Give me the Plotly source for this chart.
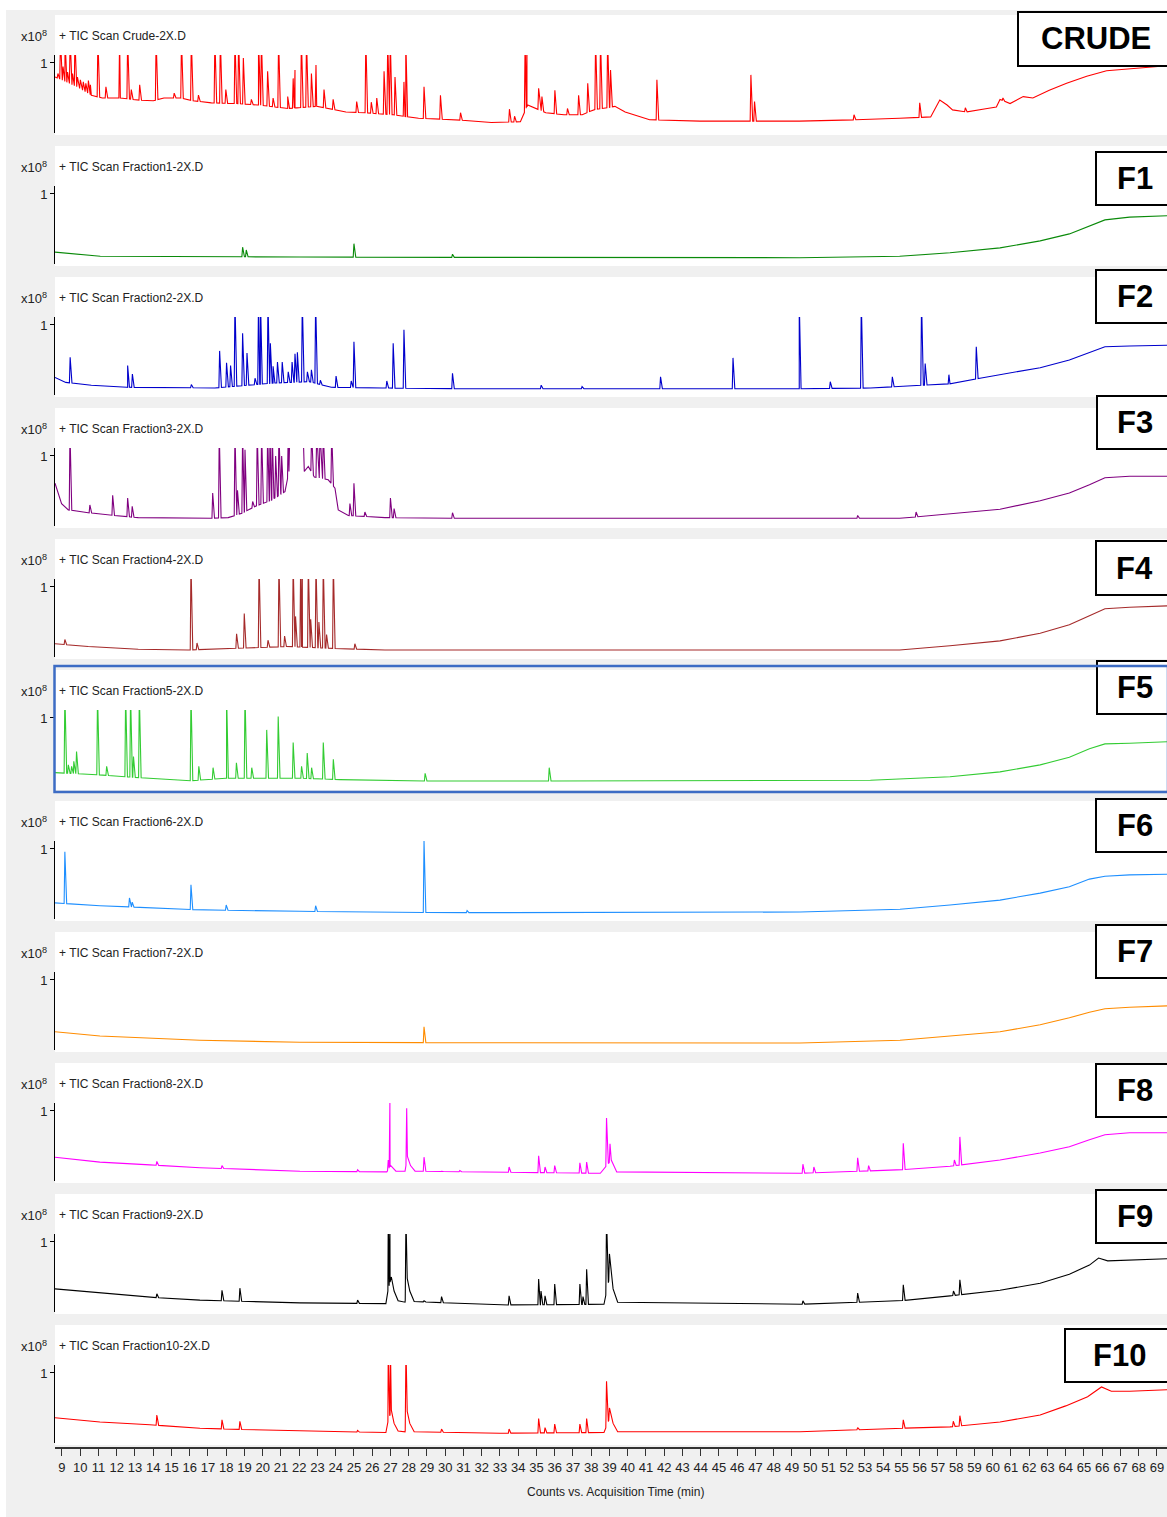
import numpy as np
import plotly.graph_objects as go

# ---------------------------------------------------------------------------
# Chromatogram data: baseline knots (time [min], counts x1e8) and peak apexes
# (time [min], counts x1e8).  Apex values above the axis top are off-scale.
# ---------------------------------------------------------------------------
OFF = 1.35  # off-scale apex

crude_base = [(8.62, 0.80), (9.81, 0.66), (10.61, 0.54), (11.21, 0.50), (12.2, 0.50),
              (13.2, 0.47), (14.0, 0.46), (14.59, 0.50), (15.49, 0.50), (16.19, 0.46),
              (17.19, 0.43), (18.58, 0.42), (19.77, 0.40), (21.37, 0.35), (22.96, 0.38),
              (24.56, 0.30), (25.55, 0.29), (27.15, 0.26), (28.54, 0.21), (30.53, 0.19),
              (32.53, 0.15), (34.12, 0.16), (34.52, 0.40), (35.51, 0.29), (36.51, 0.26),
              (37.51, 0.26), (38.11, 0.33), (39.3, 0.38), (39.86, 0.30), (41.2, 0.19),
              (43.96, 0.17), (47.25, 0.17), (49.4, 0.17), (52.7, 0.19), (54.9, 0.21),
              (56.6, 0.23), (57.1, 0.47), (57.5, 0.40), (57.8, 0.33), (58.57, 0.30),
              (59.7, 0.35), (60.2, 0.37), (60.4, 0.48), (60.95, 0.42), (61.67, 0.52),
              (62.2, 0.50), (63.1, 0.61), (64.05, 0.71), (65.15, 0.81), (66.24, 0.89),
              (67.7, 0.92), (69.55, 0.96)]
crude_peaks = [(8.78, 0.85), (8.92, OFF), (9.06, 0.95), (9.17, OFF), (9.31, 0.87),
               (9.45, OFF), (9.58, 0.85), (9.71, OFF), (9.85, 0.80), (10.01, 0.76),
               (10.17, 0.73), (10.31, 0.71), (10.45, 0.75), (10.56, 0.69), (10.97, OFF),
               (11.41, 0.66), (12.16, OFF), (12.6, OFF), (12.8, 0.62), (13.26, 0.69),
               (14.16, OFF), (15.15, 0.57), (15.55, OFF), (16.09, OFF), (16.48, 0.54),
               (17.38, OFF), (17.68, OFF), (17.98, 0.62), (18.48, OFF), (18.68, OFF),
               (18.94, 1.07), (19.38, 0.48), (19.77, OFF), (19.93, OFF), (20.27, 0.88),
               (20.57, 0.50), (20.87, OFF), (21.37, 0.52), (21.67, 0.78), (21.77, 0.90),
               (22.12, OFF), (22.4, OFF), (22.67, 0.85), (22.92, 0.97), (23.36, 0.62),
               (23.86, 0.48), (25.15, 0.45), (25.65, OFF), (25.95, 0.44), (26.25, 0.50),
               (26.65, 0.88), (26.85, OFF), (26.99, OFF), (27.25, 0.80), (27.74, 0.73),
               (27.84, OFF), (28.84, 0.66), (29.74, 0.54), (30.84, 0.29), (33.52, 0.34),
               (33.8, 0.24), (34.38, OFF), (34.48, OFF), (35.12, 0.64), (35.3, 0.52),
               (36.01, 0.61), (36.7, 0.35), (37.31, 0.54), (37.81, 0.71), (38.24, OFF),
               (38.51, OFF), (38.9, OFF), (39.06, 0.90), (41.6, 0.76), (46.75, 0.83),
               (46.95, 0.45), (52.4, 0.26), (56.0, 0.43), (58.5, 0.36), (60.56, 0.50)]

f1_base = [(8.62, 0.17), (11.1, 0.11), (22.0, 0.10), (38.5, 0.09), (49.4, 0.09),
           (54.9, 0.11), (57.66, 0.16), (60.4, 0.23), (62.6, 0.33), (64.2, 0.43),
           (65.3, 0.54), (66.15, 0.63), (67.5, 0.67), (69.55, 0.69)]
f1_peaks = [(18.9, 0.24), (19.1, 0.20), (25.0, 0.29), (30.4, 0.14)]

f2_base = [(8.62, 0.25), (9.21, 0.18), (10.61, 0.14), (12.6, 0.11), (17.38, 0.10),
           (20.57, 0.17), (22.56, 0.19), (23.76, 0.11), (26.55, 0.10), (30.53, 0.09),
           (39.86, 0.09), (49.4, 0.09), (53.3, 0.10), (57.66, 0.16), (59.3, 0.24),
           (60.4, 0.29), (62.6, 0.39), (64.2, 0.50), (65.3, 0.61), (66.15, 0.69),
           (67.5, 0.70), (69.55, 0.71)]
f2_peaks = [(9.45, 0.54), (12.6, 0.42), (12.86, 0.30), (16.09, 0.15), (17.64, 0.63),
            (18.02, 0.46), (18.24, 0.42), (18.48, OFF), (18.9, 0.88), (19.14, 0.60),
            (19.58, 0.24), (19.77, OFF), (19.88, OFF), (20.29, OFF), (20.42, 0.74),
            (20.57, 0.41), (20.81, 0.47), (21.07, 0.47), (21.4, 0.33), (21.61, 0.47),
            (21.77, 0.59), (21.9, 0.61), (22.17, OFF), (22.45, 0.33), (22.67, 0.36),
            (22.9, OFF), (23.16, 0.21), (24.02, 0.27), (24.85, 0.20), (25.0, 0.76),
            (26.8, 0.20), (27.15, 0.74), (27.74, 0.93), (30.4, 0.31), (35.26, 0.14),
            (37.5, 0.12), (41.8, 0.26), (45.77, 0.53), (49.4, OFF), (51.1, 0.19),
            (52.8, OFF), (54.5, 0.26), (56.1, OFF), (56.3, 0.45), (57.6, 0.29),
            (59.1, 0.69)]

f3_base = [(8.62, 0.61), (8.98, 0.32), (9.35, 0.23), (10.44, 0.19), (12.27, 0.14),
           (13.18, 0.12), (17.2, 0.11), (18.11, 0.12), (18.85, 0.18), (19.58, 0.28),
           (20.49, 0.37), (21.22, 0.49), (21.44, 0.78), (21.5, 1.50), (22.2, 1.50),
           (22.28, 0.78), (22.5, 0.85), (22.83, 0.70), (23.59, 0.66), (23.96, 0.54),
           (24.14, 0.23), (24.69, 0.15), (26.7, 0.12), (30.0, 0.11), (54.9, 0.11),
           (57.66, 0.17), (60.4, 0.24), (62.6, 0.36), (64.2, 0.47), (65.3, 0.59),
           (66.15, 0.69), (67.5, 0.71), (69.55, 0.71)]
f3_peaks = [(9.44, OFF), (10.53, 0.30), (11.78, 0.44), (12.6, 0.40), (12.85, 0.28),
            (17.26, 0.47), (17.62, OFF), (18.48, OFF), (18.62, 0.51), (18.9, OFF),
            (19.03, 1.09), (19.45, 0.35), (19.7, OFF), (19.94, OFF), (20.27, OFF),
            (20.4, OFF), (20.52, OFF), (20.71, 1.00), (20.89, OFF), (21.04, 1.00),
            (21.4, OFF), (22.68, OFF), (22.96, OFF), (23.14, OFF), (23.32, OFF),
            (23.78, OFF), (24.78, 0.32), (25.0, 0.61), (25.6, 0.20), (27.0, 0.40),
            (27.2, 0.25), (30.4, 0.19), (52.6, 0.15), (55.8, 0.20)]

f4_base = [(8.62, 0.19), (10.44, 0.15), (13.18, 0.11), (15.92, 0.10), (21.4, 0.15),
           (24.14, 0.12), (26.7, 0.10), (54.9, 0.10), (57.66, 0.16), (60.4, 0.23),
           (62.6, 0.34), (64.2, 0.46), (65.3, 0.59), (66.15, 0.69), (67.5, 0.71),
           (69.55, 0.73)]
f4_peaks = [(9.16, 0.25), (16.07, OFF), (16.4, 0.20), (18.57, 0.33), (18.99, 0.62),
            (19.8, OFF), (20.29, 0.24), (20.89, OFF), (21.2, 0.30), (21.67, OFF),
            (21.8, 0.58), (22.08, OFF), (22.17, OFF), (22.5, OFF), (22.63, 0.54),
            (22.92, OFF), (23.08, 0.50), (23.32, OFF), (23.5, 0.32), (23.87, OFF),
            (25.05, 0.19)]

f5_base = [(8.62, 0.22), (10.9, 0.19), (13.64, 0.14), (15.83, 0.10), (18.02, 0.14),
           (22.04, 0.14), (24.23, 0.12), (27.52, 0.10), (38.5, 0.10), (53.3, 0.11),
           (57.66, 0.16), (60.4, 0.23), (62.6, 0.33), (64.2, 0.44), (65.3, 0.56),
           (66.15, 0.63), (67.5, 0.64), (69.55, 0.66)]
f5_peaks = [(9.16, OFF), (9.35, 0.33), (9.53, 0.31), (9.65, 0.38), (9.8, 0.52),
            (10.95, OFF), (11.45, 0.31), (12.49, OFF), (12.76, OFF), (12.92, 0.45),
            (13.24, OFF), (16.07, OFF), (16.5, 0.31), (17.28, 0.29), (18.02, OFF),
            (18.56, 0.36), (19.03, OFF), (19.4, 0.29), (20.22, 0.83), (20.85, 1.02),
            (21.67, 0.65), (22.13, 0.31), (22.44, 0.50), (22.68, 0.29), (23.32, 0.65),
            (23.87, 0.41), (28.9, 0.21), (35.7, 0.29)]

f6_base = [(8.62, 0.23), (11.08, 0.19), (16.56, 0.13), (22.04, 0.11), (30.26, 0.09),
           (49.44, 0.10), (54.92, 0.14), (57.66, 0.20), (60.4, 0.27), (62.6, 0.37),
           (64.2, 0.46), (65.3, 0.57), (66.15, 0.61), (67.5, 0.63), (69.55, 0.64)]
f6_peaks = [(9.16, 0.96), (12.7, 0.30), (12.85, 0.24), (16.07, 0.49), (18.0, 0.20),
            (22.9, 0.19), (28.84, 1.12), (31.2, 0.12), (63.5, 0.42)]

f7_base = [(8.62, 0.26), (11.08, 0.20), (16.56, 0.14), (22.04, 0.11), (38.5, 0.10),
           (49.44, 0.10), (54.92, 0.14), (57.66, 0.20), (60.4, 0.26), (62.6, 0.36),
           (64.2, 0.46), (65.3, 0.54), (66.15, 0.59), (67.5, 0.61), (69.55, 0.63)]
f7_peaks = [(28.84, 0.33)]

f8_base = [(8.62, 0.34), (11.08, 0.27), (13.82, 0.23), (16.56, 0.19), (22.04, 0.14),
           (26.8, 0.13), (27.02, 0.22), (27.3, 0.14), (27.8, 0.14), (27.93, 0.35),
           (28.1, 0.22), (28.35, 0.14), (38.5, 0.11), (39.1, 0.30), (39.4, 0.13),
           (49.44, 0.11), (54.92, 0.16), (57.66, 0.21), (60.4, 0.30), (62.6, 0.40),
           (64.2, 0.49), (65.3, 0.59), (66.15, 0.66), (67.5, 0.69), (69.55, 0.69)]
f8_peaks = [(14.2, 0.28), (17.77, 0.22), (25.2, 0.16), (26.88, 0.30), (26.97, 1.13),
            (27.89, 1.04), (28.84, 0.34), (29.8, 0.14), (30.8, 0.15), (33.5, 0.20),
            (35.12, 0.36), (35.47, 0.20), (36.0, 0.22), (37.38, 0.26), (37.75, 0.27),
            (38.84, 0.90), (39.03, 0.53), (49.6, 0.24), (50.2, 0.20), (52.6, 0.33),
            (53.2, 0.22), (55.1, 0.54), (57.9, 0.30), (58.2, 0.63)]

f9_base = [(8.62, 0.33), (11.08, 0.27), (13.82, 0.21), (16.56, 0.17), (22.04, 0.13),
           (26.75, 0.12), (26.86, 0.30), (27.05, 0.50), (27.2, 0.30), (27.42, 0.16),
           (27.8, 0.14), (27.92, 0.48), (28.06, 0.30), (28.3, 0.15), (33.0, 0.10),
           (38.7, 0.11), (39.08, 0.60), (39.2, 0.33), (39.45, 0.14), (49.44, 0.11),
           (54.92, 0.16), (57.66, 0.23), (60.4, 0.31), (62.6, 0.41), (64.2, 0.54),
           (65.3, 0.67), (65.8, 0.77), (66.3, 0.73), (67.5, 0.74), (69.55, 0.76)]
f9_peaks = [(14.2, 0.26), (17.77, 0.31), (18.75, 0.34), (25.2, 0.17), (26.88, OFF),
            (26.97, OFF), (27.85, OFF), (28.84, 0.16), (29.8, 0.22), (31.5, 0.12),
            (33.5, 0.23), (35.12, 0.47), (35.25, 0.30), (35.47, 0.23), (36.0, 0.40),
            (37.38, 0.40), (37.55, 0.22), (37.75, 0.61), (38.84, OFF), (39.0, 0.83),
            (49.6, 0.16), (52.6, 0.27), (55.1, 0.39), (57.85, 0.30), (58.2, 0.46)]

f10_base = [(8.62, 0.36), (11.08, 0.30), (13.82, 0.26), (16.56, 0.21), (22.04, 0.17),
            (26.75, 0.15), (26.86, 0.30), (27.05, 0.47), (27.2, 0.28), (27.42, 0.17),
            (27.8, 0.16), (27.92, 0.45), (28.06, 0.28), (28.3, 0.16), (33.0, 0.14),
            (38.7, 0.15), (39.08, 0.40), (39.2, 0.28), (39.45, 0.16), (49.44, 0.16),
            (54.92, 0.21), (57.66, 0.23), (60.4, 0.30), (62.6, 0.40), (64.0, 0.53),
            (65.2, 0.66), (65.96, 0.80), (66.5, 0.74), (67.5, 0.74), (69.55, 0.76)]
f10_peaks = [(14.2, 0.40), (17.77, 0.33), (18.75, 0.31), (25.2, 0.18), (26.88, OFF),
             (27.0, OFF), (27.85, OFF), (29.8, 0.20), (33.5, 0.20), (35.12, 0.35),
             (35.47, 0.22), (36.0, 0.27), (37.38, 0.27), (37.75, 0.35), (38.84, 0.88),
             (39.0, 0.50), (52.6, 0.22), (55.1, 0.33), (57.84, 0.31), (58.2, 0.39)]

file_names = ["Crude-2X.D", "Fraction1-2X.D", "Fraction2-2X.D", "Fraction3-2X.D",
              "Fraction4-2X.D", "Fraction5-2X.D", "Fraction6-2X.D", "Fraction7-2X.D",
              "Fraction8-2X.D", "Fraction9-2X.D", "Fraction10-2X.D"]
sample_labels = ["CRUDE", "F1", "F2", "F3", "F4", "F5", "F6", "F7", "F8", "F9", "F10"]
trace_colors = ["#ff0000", "#0a8a0a", "#0000cc", "#800080", "#a52a2a", "#33cc33",
                "#1e8fff", "#ff8c00", "#ff00ff", "#000000", "#ff0000"]
bases = [crude_base, f1_base, f2_base, f3_base, f4_base, f5_base, f6_base, f7_base,
         f8_base, f9_base, f10_base]
peak_lists = [crude_peaks, f1_peaks, f2_peaks, f3_peaks, f4_peaks, f5_peaks, f6_peaks,
              f7_peaks, f8_peaks, f9_peaks, f10_peaks]
time_ticks = list(range(9, 70))

# ---------------------------------------------------------------------------
# Geometry helpers (pixel -> paper coordinates)
# ---------------------------------------------------------------------------
W, H = 1167, 1517
X_LO, X_HI = 8.62, 69.55
Y_TOP = 1.114
TXT = "Liberation Sans, Arial, sans-serif"
BOLD = "Liberation Sans, Arial, sans-serif"
TXT_COLOR = "#222222"


def px(x):
    return x / W


def py(y):
    return 1 - y / H


def chromatogram(base, peaks):
    """Baseline knots with narrow spikes placed on them (left foot, apex, tail foot)."""
    bt = np.array([b[0] for b in base])
    bv = np.array([b[1] for b in base])
    xs, ys = list(bt), list(bv)
    for t, v in peaks:
        for foot in (t - 0.04, t + 0.10):
            xs.append(foot)
            ys.append(float(np.interp(foot, bt, bv)))
        xs.append(t)
        ys.append(v)
    order = np.argsort(xs, kind="stable")
    return np.array(xs)[order], np.array(ys)[order]


fig = go.Figure()
shapes = [dict(type="rect", xref="paper", yref="paper", x0=px(6), x1=1.0, y0=0.0,
               y1=py(10), fillcolor="#f0f0f0", line_width=0, layer="below")]
annotations = []
layout_axes = {}

label_boxes = [(1018, 12, 66), (1096, 152, 205), (1096, 270, 323), (1097, 396, 449),
               (1096, 541, 595), (1097, 661, 714), (1096, 799, 852), (1096, 925, 978),
               (1096, 1064, 1117), (1096, 1190, 1243), (1065, 1329, 1382)]

for i in range(11):
    top = 15 + 131 * i
    k = i + 1
    xa = "x" if k == 1 else f"x{k}"
    ya = "y" if k == 1 else f"y{k}"
    tx, ty = chromatogram(bases[i], peak_lists[i])
    fig.add_trace(go.Scatter(x=tx, y=ty, mode="lines", xaxis=xa, yaxis=ya,
                             line=dict(color=trace_colors[i], width=1.1),
                             showlegend=False, hoverinfo="skip"))

    # white panel
    shapes.append(dict(type="rect", xref="paper", yref="paper", x0=px(55), x1=1.0,
                       y0=py(top + 120), y1=py(top), fillcolor="white",
                       line_width=0, layer="below"))

    xaxis = dict(range=[X_LO, X_HI], domain=[px(55), 1.0], showgrid=False,
                 zeroline=False, fixedrange=True)
    if k < 11:
        xaxis.update(visible=False, anchor=ya)
        if k > 1:
            xaxis["matches"] = "x"
    else:
        xaxis.update(anchor="free", position=py(1448), matches="x", showline=True,
                     linecolor="#333333", linewidth=2, ticks="outside", ticklen=7,
                     tickcolor="#333333", tickwidth=1, tickvals=time_ticks,
                     tickfont=dict(family=TXT, size=13, color=TXT_COLOR))
    layout_axes["xaxis" if k == 1 else f"xaxis{k}"] = xaxis

    layout_axes["yaxis" if k == 1 else f"yaxis{k}"] = dict(
        range=[0, Y_TOP], domain=[py(top + 118), py(top + 40)], anchor=xa,
        showgrid=False, zeroline=False, showline=True, linecolor="black", linewidth=1,
        ticks="outside", ticklen=4, tickcolor="black", tickvals=[1], ticktext=["1"],
        tickfont=dict(family=TXT, size=13, color=TXT_COLOR), fixedrange=True)

    annotations.append(dict(xref="paper", yref="paper", x=px(49), y=py(top + 21),
                            text="x10<sup>8</sup>", showarrow=False, xanchor="right",
                            yanchor="middle",
                            font=dict(family=TXT, size=13, color=TXT_COLOR)))
    annotations.append(dict(xref="paper", yref="paper", x=px(57), y=py(top + 21),
                            text="+ TIC Scan " + file_names[i], showarrow=False,
                            xanchor="left", yanchor="middle",
                            font=dict(family=TXT, size=12, color=TXT_COLOR)))

    bx0, by0, by1 = label_boxes[i]
    shapes.append(dict(type="rect", xref="paper", yref="paper", x0=px(bx0), x1=px(1172),
                       y0=py(by1), y1=py(by0), fillcolor="white",
                       line=dict(color="black", width=2), layer="above"))
    annotations.append(dict(xref="paper", yref="paper", x=px((bx0 + 1167) / 2 + 3),
                            y=py((by0 + by1) / 2), text="<b>" + sample_labels[i] + "</b>",
                            showarrow=False, xanchor="center", yanchor="middle",
                            font=dict(family=BOLD, size=31, color="black")))

# highlighted (selected) panel outline
shapes.append(dict(type="rect", xref="paper", yref="paper", x0=px(54.5), x1=px(1168),
                   y0=py(792), y1=py(666), fillcolor="rgba(0,0,0,0)",
                   line=dict(color="#3d6cc4", width=2.5), layer="above"))

annotations.append(dict(xref="paper", yref="paper", x=px(615), y=py(1492),
                        text="Counts vs. Acquisition Time (min)", showarrow=False,
                        xanchor="center", yanchor="middle",
                        font=dict(family=TXT, size=12, color=TXT_COLOR)))

fig.update_layout(width=W, height=H, margin=dict(l=0, r=0, t=0, b=0),
                  paper_bgcolor="white", plot_bgcolor="rgba(0,0,0,0)",
                  shapes=shapes, annotations=annotations, **layout_axes)

fig.write_html("out.html")
